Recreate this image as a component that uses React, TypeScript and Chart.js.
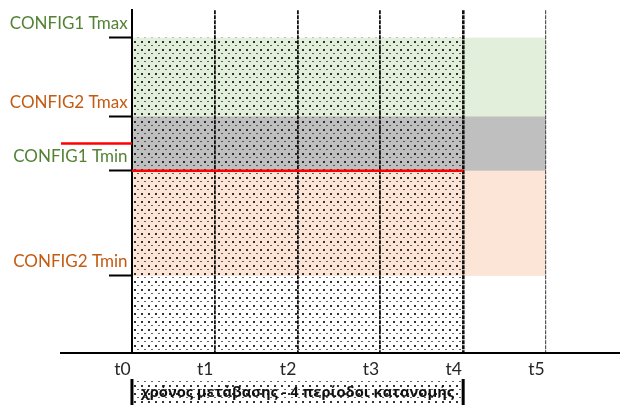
import React, { useEffect, useRef } from 'react';
import { Chart, registerables } from 'chart.js';
Chart.register(...registerables);

// ---- data ----
const timeLabels = ['t0', 't1', 't2', 't3', 't4', 't5'];
const timeValues = [0, 1, 2, 3, 4, 5];
const levelLabels = ['CONFIG1 Tmax', 'CONFIG2 Tmax', 'CONFIG1 Tmin', 'CONFIG2 Tmin'];
const levelValues = [92.0, 69.0, 53.2, 22.5];
const levelColors = ['#548235', '#c55a11', '#548235', '#c55a11'];
const config1Range = [53.2, 92.0];
const config2Range = [22.5, 69.0];
const setpointLevel = 61.1;
const transitionStart = 0;
const transitionEnd = 4;
const bandEnd = 5;
const xMin = -0.857;
const xMax = 5.894;
const yMin = 0;
const yMax = 100;
const transitionText = 'χρόνος μετάβασης - 4 περίοδοι κατανομής';

const gridWidths = [0, 1.8, 1.8, 1.8, 2.6, 1.2];
const gridColors = ['rgba(0,0,0,0)', '#111', '#111', '#111', '#111', '#555'];

function makeDots(ctx: CanvasRenderingContext2D) {
  const c = document.createElement('canvas');
  c.width = 7;
  c.height = 8;
  const g = c.getContext('2d')!;
  g.fillStyle = 'rgba(30,30,30,0.9)';
  g.fillRect(1, 1, 2, 2);
  g.fillStyle = 'rgba(50,50,50,0.75)';
  g.fillRect(4, 5, 2, 1);
  return ctx.createPattern(c, 'repeat')!;
}

const bandsPlugin = {
  id: 'bands',
  beforeDraw(chart: any) {
    const { ctx } = chart;
    const xs = chart.scales.x;
    const ys = chart.scales.y;
    const rect = (x0: number, x1: number, y0: number, y1: number, fill: any) => {
      const l = xs.getPixelForValue(x0);
      const r = xs.getPixelForValue(x1);
      const t = ys.getPixelForValue(y1);
      const b = ys.getPixelForValue(y0);
      ctx.fillStyle = fill;
      ctx.fillRect(l, t, r - l, b - t);
    };
    ctx.save();
    rect(transitionStart, bandEnd, config1Range[0], config1Range[1], '#e2efda');
    rect(transitionStart, bandEnd, config2Range[0], config2Range[1], '#fce4d6');
    const oLo = Math.max(config1Range[0], config2Range[0]);
    const oHi = Math.min(config1Range[1], config2Range[1]);
    if (oHi > oLo) rect(transitionStart, bandEnd, oLo, oHi, '#bfbfbf');
    rect(transitionStart, transitionEnd, yMin, Math.max(config1Range[1], config2Range[1]), makeDots(ctx));
    ctx.restore();
  },
  afterDraw(chart: any) {
    const { ctx } = chart;
    const xs = chart.scales.x;
    const l = xs.getPixelForValue(transitionStart);
    const r = xs.getPixelForValue(transitionEnd);
    const top = chart.chartArea.bottom + 26;
    const bottom = chart.height;
    ctx.save();
    ctx.fillStyle = '#fff';
    ctx.fillRect(l, top, r - l, bottom - top);
    ctx.fillStyle = makeDots(ctx);
    ctx.fillRect(l, top, r - l, bottom - top);
    ctx.fillStyle = '#000';
    ctx.fillRect(l - 1.5, top, 3, bottom - top);
    ctx.fillRect(r - 1.5, top, 3, bottom - top);
    ctx.font = 'bold 14.7px "Open Sans", "Noto Sans", sans-serif';
    ctx.textAlign = 'center';
    ctx.textBaseline = 'middle';
    ctx.fillStyle = '#111';
    ctx.fillText(transitionText, (l + r) / 2, (top + bottom) / 2 + 1);
    ctx.restore();
  },
};

export default function App() {
  const ref = useRef<HTMLCanvasElement>(null);
  useEffect(() => {
    const chart = new Chart(ref.current!, {
      type: 'line',
      data: {
        datasets: [
          {
            data: [
              { x: xMin, y: setpointLevel },
              { x: transitionStart, y: setpointLevel },
            ],
            borderColor: '#ff0000',
            borderWidth: 2.5,
            pointRadius: 0,
            fill: false,
          },
          {
            data: [
              { x: transitionStart, y: config1Range[0] },
              { x: transitionEnd, y: config1Range[0] },
            ],
            borderColor: '#ff0000',
            borderWidth: 2.5,
            pointRadius: 0,
            fill: false,
          },
        ],
      },
      plugins: [bandsPlugin],
      options: {
        responsive: false,
        animation: false,
        events: [],
        layout: { padding: { left: 61, top: 10, right: 0, bottom: 0 } },
        plugins: { legend: { display: false }, tooltip: { enabled: false } },
        scales: {
          x: {
            type: 'linear',
            min: xMin,
            max: xMax,
            afterBuildTicks: (s: any) => {
              s.ticks = timeValues.map((v) => ({ value: v }));
            },
            afterFit: (s: any) => {
              s.height = 52;
            },
            ticks: {
              autoSkip: false,
              maxRotation: 0,
              labelOffset: -9.5,
              padding: 6,
              color: '#262626',
              font: { family: 'Lato, "Open Sans", sans-serif', size: 17.5 },
              callback: (v: any) => timeLabels[timeValues.indexOf(Number(v))] ?? '',
            },
            grid: {
              drawTicks: false,
              color: (c: any) => gridColors[c.index] ?? '#000',
              lineWidth: (c: any) => gridWidths[c.index] ?? 1,
            },
            border: { display: true, color: '#000', width: 2, dash: [4, 1] },
          },
          y: {
            type: 'linear',
            min: yMin,
            max: yMax,
            position: { x: 0 } as any,
            afterBuildTicks: (s: any) => {
              s.ticks = levelValues.map((v) => ({ value: v }));
            },
            ticks: {
              autoSkip: false,
              labelOffset: -14,
              padding: 0,
              color: (c: any) => levelColors[c.index] ?? '#000',
              font: { family: 'Lato, "Open Sans", sans-serif', size: 17 },
              callback: (v: any) => (levelLabels[levelValues.indexOf(Number(v))] ?? '') + ' ',
            },
            grid: {
              drawOnChartArea: false,
              drawTicks: true,
              tickLength: 22,
              tickWidth: 2,
              tickColor: '#000',
            },
            border: { display: true, color: '#000', width: 2 },
          },
        },
      },
    } as any);
    return () => chart.destroy();
  }, []);
  return (
    <div style={{ position: 'fixed', left: 0, top: 0, width: 620, height: 405, background: '#fff' }}>
      <canvas ref={ref} width={620} height={405} style={{ display: 'block' }} />
    </div>
  );
}
